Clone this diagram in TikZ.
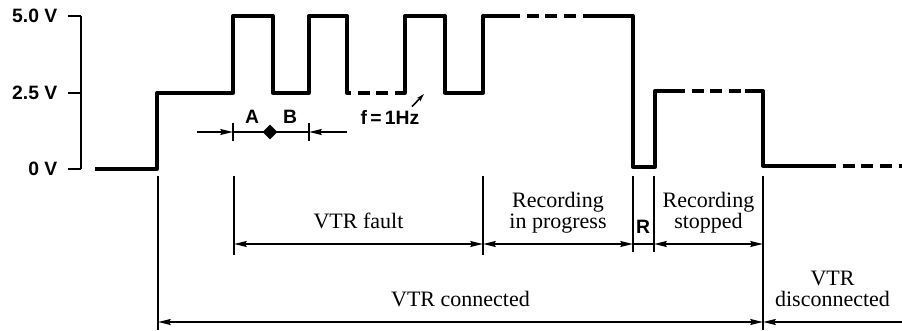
\documentclass[tikz,border=0pt]{standalone}
\usepackage{fontspec}
\setmainfont{Liberation Serif}
\setsansfont{Liberation Sans}
\usetikzlibrary{arrows.meta,positioning,shapes.geometric}
\tikzset{
  >={Stealth[length=9.5pt,width=4.4pt,inset=1.2pt]},
  wave/.style={line width=2.5pt,line join=round},
  wavedash/.style={wave,dash pattern=on 9pt off 5pt,dash phase=9pt},
  ext/.style={line width=1.6pt},
  dim/.style={<->,line width=1.4pt},
  lbl/.style={font=\fontsize{16.5}{16}\selectfont,align=center,text depth=4.5pt},
  vlbl/.style={font=\sffamily\bfseries\fontsize{14.5}{16}\selectfont},
}

\begin{document}
\begin{tikzpicture}[x=0.75pt,y=-0.75pt]
  \useasboundingbox (0,0) rectangle (902,331);
  % voltage scale
  \foreach \v/\y [count=\i] in {5.0 V/16,2.5 V/93,0 V/169}
  {
    \node[vlbl,anchor=east] (lv\i) at (62,\y) {\v};
    \draw[ext] (lv\i.east) ++(4.5pt,0) -- (81,\y);
  }
  \draw[ext] (81,16) -- (81,169);
  % signal
  \draw[wave] (95,169) -- (157,169) |- (233,93) |- (273,16) |- (309,93) |- (347,16) |- (351,93);
  \draw[wavedash] (351,93) -- (402,93);
  \draw[wave] (402,93) -- (405,93) |- (445,16) |- (483,93) |- (520,16);
  \draw[wavedash] (520,16) -- (595,16);
  \draw[wave] (595,16) -- (633,16) |- (655,167) |- (685,91);
  \draw[wavedash] (685,91) -- (745,91);
  \draw[wave] (745,91) -- (763,91) |- (836,166);
  \draw[wavedash] (836,166) -- (902,166);
  % pulse period
  \coordinate (pl) at (197,132);
  \coordinate (pa) at (233,132);
  \coordinate (pb) at (309,132);
  \coordinate (pr) at (347,132);
  \draw[dim,-] (pa) -- (pb);
  \draw[dim,->] (pl) -- (pa);
  \draw[dim,->] (pr) -- (pb);
  \draw[ext] (233,123) -- (233,141) (309,123) -- (309,141);
  \node[diamond,fill,inner sep=2.8pt] (pm) at (270,132) {};
  \node[vlbl] (la) at (252,117) {A};
  \node[vlbl] (lb) at (290,117) {B};
  \node[vlbl] (fhz) at (390,117) {f\,=\,1Hz};
  \coordinate (fp) at (424,94);
  \draw[line width=1.2pt,-{Stealth[length=6pt,width=3.5pt]}] ([xshift=-9pt,yshift=-1pt]fhz.north east) -- (fp);
  % extension lines
  \foreach \x/\yb [count=\i] in {158/330,234/255,483/255,633/252,654/252,763/330}
  {
    \coordinate (e\i) at (\x,176);
    \coordinate (f\i) at (\x,\yb);
    \draw[ext] (e\i) -- (f\i);
  }
  \coordinate (row) at (0,244);
  \coordinate (bot) at (0,322);
  \coordinate (rend) at (902,322);
  \draw[dim] (e2|-row) -- node[lbl,midway,above=3pt] (tf) {VTR fault} (e3|-row);
  \draw[dim] (e3|-row) -- node[lbl,midway,above=3pt] (tp) {Recording\\in progress} (e4|-row);
  \draw[dim,-] (e4|-row) -- (e5|-row);
  \node[vlbl] (tr) at (643,227) {R};
  \draw[dim] (e5|-row) -- node[lbl,midway,above=3pt] (ts) {Recording\\stopped} (e6|-row);
  \draw[dim] (e1|-bot) -- node[lbl,midway,above=3pt] (tc) {VTR connected} (e6|-bot);
  \draw[dim,->] (rend) -- node[lbl,midway,above=3pt] (td) {VTR\\disconnected} (e6|-bot);
\end{tikzpicture}
\end{document}
